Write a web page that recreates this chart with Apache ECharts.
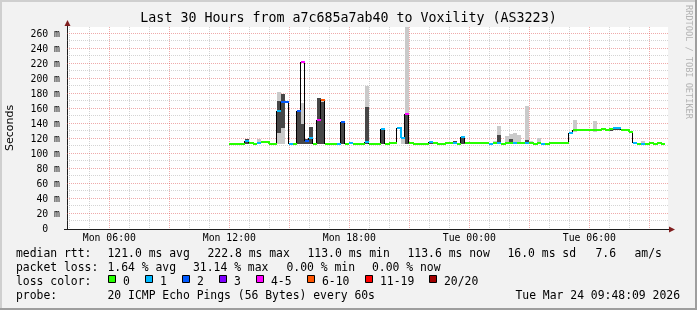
<!DOCTYPE html>
<html><head><meta charset="utf-8">
<script src="https://cdn.jsdelivr.net/npm/echarts@6/dist/echarts.min.js"></script>
<style>html,body{margin:0;padding:0;background:#f2f2f2}#c{width:697px;height:310px}</style>
</head><body><div id="c"></div>
<script>
// ---- data (hours since Mon 00:00) ----
const runStart = [12.0,12.8,13.0,13.2,13.4,13.6,14.0,14.4,14.6,14.8,15.0,15.2,15.4,15.6,15.8,16.0,16.2,16.4,16.6,16.8,
  17.4,17.6,17.8,18.0,18.2,18.8,19.0,19.6,19.8,20.0,20.4,20.6,20.8,21.0,21.2,22.0,22.2,22.4,22.8,23.2,
  23.4,23.6,23.8,25.0,25.2,25.4,25.6,25.8,26.0,26.2,26.4,26.6,26.8,27.0,27.2,27.4,27.6,27.8,28.0,29.0,
  29.2,29.4,30.2,30.4,30.6,30.8,31.0,31.2,31.6,32.0,32.2,32.4,32.6,32.8,33.0,33.2,33.4,33.6];
const dataEnd = 33.8;
const median = [113.3,117.8,115.0,113.3,115.0,115.6,113.3,157.8,169.0,169.0,113.3,113.3,157.8,223.0,117.8,120.9,113.3,145.3,172.5,113.3,
  113.3,143.1,113.0,114.7,113.3,116.0,113.3,132.9,113.0,115.0,135.1,121.0,153.0,115.0,113.3,115.6,115.0,113.3,115.0,114.0,
  113.3,123.1,115.0,113.8,115.0,115.0,113.8,115.0,115.0,115.0,115.0,115.0,115.0,114.2,113.8,115.0,113.8,113.8,115.0,127.6,
  131.6,131.6,131.6,131.6,132.9,131.6,132.9,134.2,131.6,129.8,115.0,113.8,113.8,113.8,115.0,113.8,115.0,113.8];
const lossCount = [0,1,0,0,1,0,0,1,2,2,1,0,2,4,2,1,0,4,6,0,
  1,2,0,1,0,1,0,1,0,0,1,1,4,0,0,1,0,0,0,1,
  0,1,0,1,0,1,0,0,0,1,0,0,1,0,0,0,1,0,0,1,
  0,0,0,0,0,0,0,1,0,0,1,0,1,0,0,0,0,0];
const N = null;
const smokeLo = [N,N,N,N,113,N,N,113,113,N,N,N,N,113,N,N,N,N,113,N,
  N,N,N,N,N,113,N,N,N,N,N,113,113,N,N,N,N,N,N,N,
  N,N,N,N,113,113,N,113,113,113,113,N,113,113,N,113,N,N,N,N,
  129,N,129,N,N,N,N,N,N,N,N,N,113,N,N,N,N,N];
const smokeHi = [N,N,N,N,120.4,N,N,182,180,N,N,N,N,168,N,N,N,N,172,N,
  N,N,N,N,N,190,N,N,N,N,N,120,275,N,N,N,N,N,N,N,
  N,N,N,N,117,137.3,N,124.4,127,128,125,N,164,117,N,121.8,N,N,N,N,
  145.3,N,144,N,N,N,N,N,N,N,N,N,117,N,N,N,N,N];
const coreLo = [N,113,N,N,N,N,N,128,134,N,N,N,113,113,113,113,N,113,113,N,
  N,113,N,113,N,113,N,113,N,N,N,N,113,N,N,113,N,N,N,113,
  N,113,N,N,N,113,N,N,113,N,N,N,113,N,N,N,N,N,N,N,
  N,N,N,N,N,N,131,132,N,N,N,N,N,N,N,N,N,N];
const coreHi = [N,119.5,N,N,N,N,N,170,180,N,N,N,158,140,120,135.6,N,174,169,N,
  N,143,N,116.4,N,163,N,133,N,N,N,N,153,N,N,117,N,N,N,117,
  N,123,N,N,N,125,N,N,120,N,N,N,118,N,N,N,N,N,N,N,
  N,N,N,N,N,N,134.5,135.5,N,N,N,N,N,N,N,N,N,N];

const lossLabels = ['0','1','2','3','4-5','6-10','11-19','20/20'];
const lossBinMin = [0,1,2,3,4,6,11,20];
const lossColors = ['#26ff00','#00b8ff','#0059ff','#7e00ff','#ff00ff','#ff5500','#ff0000','#a10000'];

const xTickHours = [6,12,18,24,30];
const xTickLabels = ['Mon 06:00','Mon 12:00','Mon 18:00','Tue 00:00','Tue 06:00'];
const yTickValues = [0,20,40,60,80,100,120,140,160,180,200,220,240,260];
const yUnit = 'm';

const titleText = 'Last 30 Hours from a7c685a7ab40 to Voxility (AS3223)';
const rttStats = ['median rtt:','121.0 ms avg','222.8 ms max','113.0 ms min','113.6 ms now','16.0 ms sd','7.6','am/s'];
const lossStats = ['packet loss:','1.64 % avg','31.14 % max','0.00 % min','0.00 % now'];
const probeText = ['probe:','20 ICMP Echo Pings (56 Bytes) every 60s'];
const stampText = 'Tue Mar 24 09:48:09 2026';

// ---- layout ----
const X_MIN = 3.885, X_MAX = 33.935, Y_MAX = 269.33;
const GL = 67, GT = 27, GW = 601, GH = 202;
const MONO = 'DejaVu Sans Mono';

function binOf(l){ let b = 0; for (let i = 0; i < lossBinMin.length; i++) if (l >= lossBinMin[i]) b = i; return b; }
const n = runStart.length;
const runEnd = runStart.map((s,i) => i < n-1 ? runStart[i+1] : dataEnd);

const lightData = [], coreData = [], segData = [], connData = [];
for (let i = 0; i < n; i++) {
  if (smokeHi[i] != null) lightData.push([runStart[i], runEnd[i], smokeLo[i], smokeHi[i]]);
  if (coreHi[i] != null) coreData.push([runStart[i], runEnd[i], coreLo[i], coreHi[i]]);
  const same = i < n-1 && binOf(lossCount[i]) === binOf(lossCount[i+1]);
  segData.push([runStart[i], runEnd[i], median[i], lossCount[i], same ? median[i+1] : median[i]]);
  if (i < n-1) connData.push([runEnd[i], median[i], median[i+1]]);
}
const vGrid = []; for (let h = 4; h <= 33; h++) vGrid.push([h, h % 3 === 0 ? 1 : 0]);
const hGrid = []; for (let v = 10; v <= 260; v += 10) hGrid.push([X_MIN, v, v % 20 === 0 ? 1 : 0]);

const MINOR = 'rgba(143,143,143,0.38)', MAJOR = 'rgba(222,79,79,0.48)';

function rectRender(fill){
  return function(params, api){
    const a = api.coord([api.value(0), Math.min(api.value(3), Y_MAX)]);
    const b = api.coord([api.value(1), api.value(2)]);
    const x0 = Math.round(a[0]), x1 = Math.round(b[0]);
    const y0 = Math.round(a[1]), y1 = Math.round(b[1]);
    return {type:'rect', shape:{x:x0, y:y0, width:x1-x0, height:Math.max(1,y1-y0)}, style:{fill:fill}};
  };
}

const chart = echarts.init(document.getElementById('c'), null, {renderer:'canvas'});
const graphics = [];
// borders
graphics.push({type:'rect', shape:{x:0,y:0,width:697,height:2}, style:{fill:'#cfcfcf'}, silent:true});
graphics.push({type:'rect', shape:{x:0,y:0,width:2,height:310}, style:{fill:'#cfcfcf'}, silent:true});
graphics.push({type:'rect', shape:{x:0,y:308,width:697,height:2}, style:{fill:'#9e9e9e'}, silent:true});
graphics.push({type:'rect', shape:{x:695,y:0,width:2,height:310}, style:{fill:'#9e9e9e'}, silent:true});
// axis extensions + arrows
graphics.push({type:'line', shape:{x1:67.5,y1:27,x2:67.5,y2:23}, style:{stroke:'#1f1f1f',lineWidth:1}, z:50});
graphics.push({type:'line', shape:{x1:64,y1:229.5,x2:67,y2:229.5}, style:{stroke:'#1f1f1f',lineWidth:1}, z:50});
graphics.push({type:'line', shape:{x1:668,y1:229.5,x2:670,y2:229.5}, style:{stroke:'#1f1f1f',lineWidth:1}, z:50});
graphics.push({type:'polygon', shape:{points:[[64.5,26],[70.5,26],[67.5,20]]}, style:{fill:'#801f1f'}, z:51});
graphics.push({type:'polygon', shape:{points:[[669,226.5],[669,232.5],[675,229.5]]}, style:{fill:'#801f1f'}, z:51});
// y axis title
graphics.push({type:'text', x:10, y:128, rotation:Math.PI/2, style:{text:'Seconds', fill:'#000', fontSize:11, fontFamily:'DejaVu Sans', align:'center', verticalAlign:'middle', textAlign:'center', textVerticalAlign:'middle'}});
// watermark
graphics.push({type:'text', x:688, y:62, rotation:-Math.PI/2, style:{text:'RRDTOOL / TOBI OETIKER', fill:'#b4b4b4', fontSize:8.6, fontFamily:MONO, align:'center', verticalAlign:'middle', textAlign:'center', textVerticalAlign:'middle'}});
// footer
function ftext(x, y, t, align){
  graphics.push({type:'text', x:x, y:y, style:{text:t, fill:'#000', fontSize:11.4, fontFamily:MONO, align:align||'left', verticalAlign:'middle', textAlign:align||'left', textVerticalAlign:'middle'}});
}
const rttX = [16,107.5,207.5,307.5,407.5,507.5,595.5,634.5];
rttStats.forEach((t,i) => ftext(rttX[i], 254.5, t));
const lossX = [16,107.5,193,286.5,372];
lossStats.forEach((t,i) => ftext(lossX[i], 268.5, t));
ftext(16, 282, 'loss color:');
const boxX = [108.5,145.5,182.5,219.5,256.5,307.5,365.5,429.5];
lossLabels.forEach((t,i) => {
  graphics.push({type:'rect', shape:{x:boxX[i], y:275.5, width:7, height:7}, style:{fill:lossColors[i], stroke:'#000', lineWidth:1}});
  ftext(boxX[i] + 14.5, 282, t);
});
ftext(16, 296, probeText[0]);
ftext(107.5, 296, probeText[1]);
ftext(680, 296, stampText, 'right');

chart.setOption({
  animation:false,
  backgroundColor:'#f2f2f2',
  title:{text:titleText, left:'center', top:12, padding:0, textStyle:{fontFamily:MONO, fontSize:13.3, fontWeight:'normal', color:'#000'}},
  grid:{left:GL, top:GT, width:GW, height:GH, show:true, backgroundColor:'#ffffff', borderWidth:0, containLabel:false},
  xAxis:{type:'value', min:X_MIN, max:X_MAX, splitLine:{show:false}, axisTick:{show:false},
    axisLine:{show:true, onZero:false, lineStyle:{color:'#1f1f1f', width:1}},
    axisLabel:{customValues:xTickHours, formatter:(v) => { const k = xTickHours.indexOf(Math.round(v)); return k >= 0 ? xTickLabels[k] : ''; },
      fontFamily:MONO, fontSize:9.8, color:'#000', margin:4}},
  yAxis:{type:'value', min:0, max:Y_MAX, splitLine:{show:false}, axisTick:{show:false},
    axisLine:{show:true, onZero:false, lineStyle:{color:'#1f1f1f', width:1}},
    axisLabel:{customValues:yTickValues, formatter:(v) => v === 0 ? '0  ' : (Math.round(v) + ' ' + yUnit),
      fontFamily:MONO, fontSize:9.8, color:'#000', margin:7}},
  graphic:graphics,
  series:[
    {type:'custom', name:'vgrid', z:1, silent:true, clip:true, data:vGrid,
      renderItem:(p, api) => {
        const a = api.coord([api.value(0), Y_MAX]); const b = api.coord([api.value(0), 0]);
        const x = Math.floor(a[0]) + 0.5;
        return {type:'line', shape:{x1:x, y1:a[1], x2:x, y2:b[1]}, style:{stroke: api.value(1) ? MAJOR : MINOR, lineWidth:1, lineDash:[1,1]}};
      }},
    {type:'custom', name:'hgrid', z:1, silent:true, clip:true, data:hGrid,
      renderItem:(p, api) => {
        const a = api.coord([X_MIN, api.value(1)]); const b = api.coord([X_MAX, api.value(1)]);
        const y = Math.round(a[1]) - 0.5;
        return {type:'line', shape:{x1:a[0], y1:y, x2:b[0], y2:y}, style:{stroke: api.value(2) ? MAJOR : MINOR, lineWidth:1, lineDash:[1,1]}};
      }},
    {type:'custom', name:'smoke', z:2, silent:true, clip:true, data:lightData, renderItem:rectRender('#cacaca')},
    {type:'custom', name:'smokeCore', z:3, silent:true, clip:true, data:coreData, renderItem:rectRender('#474747')},
    {type:'custom', name:'connect', z:4, silent:true, clip:true, data:connData,
      renderItem:(p, api) => {
        const a = api.coord([api.value(0), api.value(1)]); const b = api.coord([api.value(0), api.value(2)]);
        const x = Math.round(a[0]) - 0.5;
        return {type:'line', shape:{x1:x, y1:Math.round(a[1]), x2:x, y2:Math.round(b[1])}, style:{stroke:'#000', lineWidth:1}};
      }},
    {type:'custom', name:'median', z:5, silent:true, clip:true, data:segData,
      renderItem:(p, api) => {
        const a = api.coord([api.value(0), api.value(2)]); const b = api.coord([api.value(1), api.value(2)]);
        const c = api.coord([api.value(1), api.value(4)]);
        const y = Math.round(a[1]); const x0 = Math.round(a[0]), x1 = Math.round(b[0]);
        const pts = [[x0, y],[x1, y]];
        if (api.value(4) !== api.value(2)) pts.push([x1, Math.round(c[1])]);
        return {type:'polyline', shape:{points:pts}, style:{stroke: lossColors[binOf(api.value(3))], lineWidth:2, fill:null, lineCap:'butt', lineJoin:'miter'}};
      }}
  ]
});
</script></body></html>
